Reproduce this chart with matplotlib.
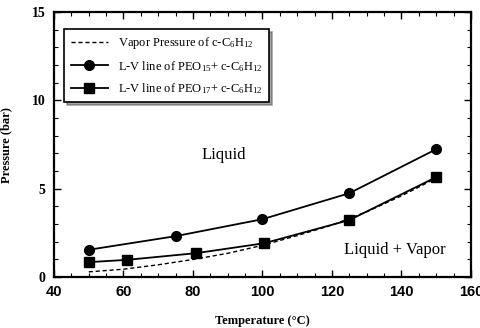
import numpy as np
import matplotlib.pyplot as plt
from matplotlib.ticker import MultipleLocator

plt.rcParams['mathtext.fontset'] = 'custom'
plt.rcParams['mathtext.rm'] = 'Liberation Serif'
plt.rcParams['mathtext.it'] = 'Liberation Serif:italic'

# vapor pressure of c-C6H12 (dashed)
vp_temp = [50, 60, 70, 80, 90, 100, 110, 120, 130, 140, 150]
vp_pres = [0.3, 0.45, 0.7, 1.0, 1.35, 1.8, 2.35, 2.95, 3.7, 4.6, 5.6]

# L-V line PEO15 (circles)
peo15_temp = [50, 75, 100, 125, 150]
peo15_pres = [1.55, 2.32, 3.28, 4.75, 7.24]

# L-V line PEO17 (squares)
peo17_temp = [50, 61, 81, 100.5, 125, 150]
peo17_pres = [0.85, 0.98, 1.36, 1.92, 3.23, 5.66]

fig = plt.figure(figsize=(4.8, 3.28), dpi=100)
ax = fig.add_axes([0.1125, 0.155, 0.8685, 0.808])

ax.plot(vp_temp, vp_pres, 'k--', lw=1.0, dashes=(3, 2),
        label=r'Vapor Pressure of c-C$_6$H$_{12}$')
ax.plot(peo15_temp, peo15_pres, 'k-', marker='o', ms=7, lw=1.3,
        label=r'L-V line of PEO$_{15}$+ c-C$_6$H$_{12}$')
ax.plot(peo17_temp, peo17_pres, 'k-', marker='s', ms=7.5, lw=1.3,
        label=r'L-V line of PEO$_{17}$+ c-C$_6$H$_{12}$')

ax.text(89, 6.9, 'Liquid', fontsize=12, family='Liberation Serif', ha='center', va='center')
ax.text(138, 1.55, 'Liquid + Vapor', fontsize=12, family='Liberation Serif', ha='center', va='center')

ax.set_xlim(40, 160)
ax.set_ylim(0, 15)
ax.xaxis.set_major_locator(MultipleLocator(20))
ax.xaxis.set_minor_locator(MultipleLocator(5))
ax.yaxis.set_major_locator(MultipleLocator(5))
ax.yaxis.set_minor_locator(MultipleLocator(1))
ax.tick_params(which='both', direction='in', top=True, right=True)
ax.tick_params(which='major', length=5, width=1)
ax.tick_params(which='minor', length=3, width=0.8)
ax.tick_params(axis='x', pad=6)
ax.tick_params(axis='y', pad=6)
for lab in ax.get_xticklabels():
    lab.set_fontweight('bold')
    lab.set_fontsize(10.5)
    lab.set_family('Liberation Sans')
for lab in ax.get_yticklabels():
    lab.set_fontweight('bold')
    lab.set_fontsize(10)
    lab.set_family('Liberation Serif')
for s in ax.spines.values():
    s.set_linewidth(1.6)

ax.set_xlabel('Temperature (°C)', fontsize=9, fontweight='bold', family='Liberation Serif', labelpad=11)
ax.set_ylabel('Pressure (bar)', fontsize=9, fontweight='bold', family='Liberation Serif', labelpad=14)

leg = ax.legend(loc='upper left', bbox_to_anchor=(0.01, 0.96), fancybox=False, shadow=True,
                prop={'family': 'Liberation Serif', 'size': 9}, handlelength=3.0,
                borderpad=0.5, labelspacing=0.6, framealpha=1)
leg.get_frame().set_edgecolor('black')
leg.get_frame().set_linewidth(1.2)

fig.savefig('out.png', dpi=100)
